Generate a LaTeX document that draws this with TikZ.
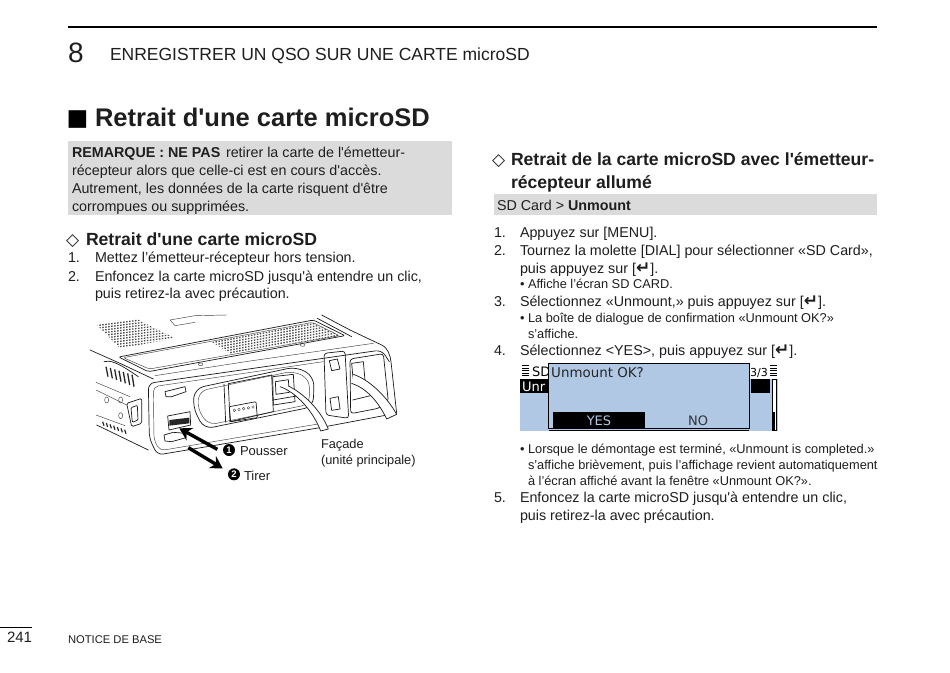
\documentclass[tikz,border=0pt]{standalone}
\usepackage{fontspec}
\setmainfont[Ligatures=TeXOff]{Liberation Sans}
\newfontfamily\dejavu{DejaVu Sans}
\newfontfamily\lcdfont{DejaVu Sans}
\usetikzlibrary{arrows.meta}
\definecolor{ink}{RGB}{30,30,30}
\definecolor{panelgray}{RGB}{219,219,219}
\definecolor{lcdblue}{RGB}{176,200,228}
\newcommand{\tl}[5]{\node[txt,font=\fontsize{#4}{#4}\selectfont] (#1) at (#2,#3) {#5};}
\newcommand{\tb}[5]{\node[txt,font=\fontsize{#4}{#4}\selectfont\bfseries] (#1) at (#2,#3) {#5};}
\newcommand{\retkey}{{\dejavu\bfseries\fontsize{17}{17}\selectfont\symbol{"21B5}}}
\tikzset{
  txt/.style={anchor=base west,inner sep=0pt,outer sep=0pt,text=ink},
  dev/.style={draw=black!90,line width=0.7pt,line join=round,line cap=round},
  devthin/.style={draw=black!75,line width=0.45pt,line join=round,line cap=round},
  numdot/.style={circle,fill=black,text=white,inner sep=0pt,minimum size=12pt,font=\fontsize{9.5}{9.5}\selectfont\bfseries},
  bigarrow/.style={draw=black,line width=3.4pt,-{Stealth[length=12pt,width=14pt]}},
  lcdtext/.style={anchor=base west,inner sep=0pt,font=\lcdfont\fontsize{13}{13}\selectfont},
}
\begin{document}
\begin{tikzpicture}[x=1pt,y=-1pt]
\useasboundingbox (0,0) rectangle (950,672);
\fill[white] (0,0) rectangle (950,672);
% header
\draw[black,line width=1.8pt] (68,27) -- (877,27);
\tl{chap}{68}{62}{28}{8}
\tl{chaptitle}{110}{60}{17.5}{ENREGISTRER UN QSO SUR UNE CARTE microSD}
\node[txt,font=\dejavu\fontsize{23}{23}\selectfont,text=black] (sq) at (66.5,125.5) {\symbol{"25A0}};
\tb{title}{95}{126}{25.5}{Retrait d'une carte microSD}
% note
\fill[panelgray] (68,141) rectangle (452,215);
\tb{n1a}{72}{157}{14.3}{REMARQUE : NE PAS}
\tl{n1b}{226}{157}{14.3}{retirer la carte de l'émetteur-}
\tl{n2}{72}{175}{14.3}{récepteur alors que celle-ci est en cours d'accès.}
\tl{n3}{72}{193}{14.3}{Autrement, les données de la carte risquent d'être}
\tl{n4}{72}{211}{14.3}{corrompues ou supprimées.}
% left section
\node[txt,font=\dejavu\bfseries\fontsize{17}{17}\selectfont] (dl) at (66,245) {\symbol{"25C7}};
\tb{hl}{86}{245}{17.6}{Retrait d'une carte microSD}
\tl{l1n}{68}{262}{14.3}{1.}
\tl{l1}{95}{262}{14.3}{Mettez l’émetteur-récepteur hors tension.}
\tl{l2n}{68}{281}{14.3}{2.}
\tl{l2}{95}{281}{14.3}{Enfoncez la carte microSD jusqu'à entendre un clic,}
\tl{l3}{95}{298}{14.3}{puis retirez-la avec précaution.}
% right section
\node[txt,font=\dejavu\bfseries\fontsize{17}{17}\selectfont] (dr) at (492,165) {\symbol{"25C7}};
\tb{hr1}{511}{165}{17.6}{Retrait de la carte microSD avec l'émetteur-}
\tb{hr2}{511}{188}{17.6}{récepteur allumé}
\fill[panelgray] (494,194) rectangle (877,215);
\node[txt,font=\fontsize{14.3}{14.3}\selectfont] (path) at (497,210) {SD Card > \textbf{Unmount}};
\tl{r1n}{494}{237}{14.3}{1.}
\tl{r1}{520}{237}{14.3}{Appuyez sur [MENU].}
\tl{r2n}{494}{255}{14.3}{2.}
\tl{r2}{520}{255}{14.3}{Tournez la molette [DIAL] pour sélectionner «SD Card»,}
\tl{r2b}{520}{273}{14.3}{puis appuyez sur [\retkey].}
\tl{r2c}{520}{288}{12.8}{• Affiche l’écran SD CARD.}
\tl{r3n}{494}{306}{14.3}{3.}
\tl{r3}{520}{306}{14.3}{Sélectionnez «Unmount,» puis appuyez sur [\retkey].}
\tl{r3b}{520}{322}{12.8}{• La boîte de dialogue de confirmation «Unmount OK?»}
\tl{r3c}{528}{338}{12.8}{s’affiche.}
\tl{r4n}{494}{355}{14.3}{4.}
\tl{r4}{520}{355}{14.3}{Sélectionnez <YES>, puis appuyez sur [\retkey].}
\tl{r5a}{520}{453}{12.8}{• Lorsque le démontage est terminé, «Unmount is completed.»}
\tl{r5b}{528}{469}{12.8}{s’affiche brièvement, puis l’affichage revient automatiquement}
\tl{r5c}{528}{485}{12.8}{à l’écran affiché avant la fenêtre «Unmount OK?».}
\tl{r6n}{494}{502}{14.3}{5.}
\tl{r6}{520}{502}{14.3}{Enfoncez la carte microSD jusqu'à entendre un clic,}
\tl{r7}{520}{520}{14.3}{puis retirez-la avec précaution.}
% footer
\draw[black,line width=0.5pt] (0,627) -- (32,627);
\tl{pg}{7}{642}{15}{241}
\tl{foot}{68}{643}{11.2}{NOTICE DE BASE}
% LCD
\fill[lcdblue] (520,379) rectangle (778,431);
\fill[black] (520,379) rectangle (549,393);
\fill[black] (751,379) rectangle (770,393);
\node[lcdtext,text=white] (lcdu) at (522,391) {Unr};
\node[lcdtext] (lcdsd) at (532,376) {SD};
\node[lcdtext,font=\lcdfont\fontsize{11}{11}\selectfont] (lcdpg) at (750,376) {3/3};
\foreach \yy in {365.5,368,370.5,373,375.5}{
  \draw[black,line width=0.8pt] (522,\yy) -- (529,\yy);
  \draw[black,line width=0.8pt] (770,\yy) -- (777,\yy);
}
\draw[black,line width=0.7pt,fill=white] (772,379) rectangle (776,430);
\fill[black] (773,412) rectangle (775,430);
\draw[black,line width=1pt,fill=lcdblue] (548.5,363.5) rectangle (749.5,428.5);
\fill[black] (553,412) rectangle (645,428);
\draw[black,line width=1pt] (549,430.5) -- (749,430.5);
\node[lcdtext,font=\lcdfont\fontsize{13.4}{13.4}\selectfont,text=black!85] (okq) at (551,377) {Unmount OK?};
\node[lcdtext,anchor=base,text=lcdblue] (yes) at (599,425) {YES};
\node[lcdtext,anchor=base,text=black!80] (no) at (698,425) {NO};
% device illustration, in zoomed-crop coordinates
\begin{scope}[shift={(80,305)},scale=0.33333]
  % vents
  \begin{scope}
    \clip (50,58) -- (170,42) -- (285,100) -- (120,130) -- cycle;
    \foreach \i in {0,...,13}{\draw[black!70,line width=1.3pt,dash pattern=on 1.5pt off 1.5pt] (40,{55+\i*8}) -- (300,{22+\i*8});}
  \end{scope}
  \begin{scope}
    \clip (395,110) -- (695,52) -- (780,92) -- (450,145) -- cycle;
    \foreach \i in {0,...,13}{\draw[black!70,line width=1.3pt,dash pattern=on 1.5pt off 1.5pt] (380,{108+\i*8}) -- (800,{30+\i*8});}
  \end{scope}
  % label plate
  \draw[devthin] (270,45) -- (345,32) (270,45) -- (285,62) -- (345,52) (345,32) -- (440,30);
  % silhouette
  \draw[dev] (725,30) -- (810,75) -- (905,120) .. controls (925,130) and (930,150) .. (933,170) -- (950,325);
  \draw[dev] (712,40) -- (815,95);
  % top panel
  \draw[dev,rounded corners=2pt] (116,156) -- (700,45) -- (795,92) -- (205,200) -- cycle;
  \draw[devthin,rounded corners=2pt] (130,158) -- (698,52) -- (778,92) -- (208,192) -- cycle;
  \draw[devthin] (362,178) circle (7 and 4) (668,120) circle (7 and 4);
  \draw[devthin] (880,115) -- (510,168) -- (225,212);
  % body left side
  \draw[dev] (30,135) -- (120,175) -- (220,222);
  \draw[dev] (72,170) .. controls (90,165) and (110,170) .. (175,215);
  \foreach \i in {0,...,6}{\draw[black!85,line width=1.3pt] ({78+\i*13},{185+\i*4}) -- ({84+\i*13},{215+\i*5});}
  \draw[devthin] (48,232) -- (150,275) (48,255) -- (140,300) (48,330) -- (135,362);
  \draw[dev] (50,360) -- (205,435);
  \foreach \i in {0,...,6}{\draw[black!85,line width=1.2pt] ({68+\i*11},{350+\i*4}) -- ({72+\i*11},{362+\i*4});}
  \draw[devthin] (80,285) circle (6 and 9) (122,285) circle (6 and 9) (122,332) circle (6 and 9);
  \draw[dev,rounded corners=1.5pt] (140,295) -- (185,280) -- (185,355) -- (155,365) -- cycle;
  \draw[dev,rounded corners=1pt] (153,308) -- (172,301) -- (174,345) -- (157,352) -- cycle;
  % front face
  \draw[dev,rounded corners=6pt] (928,170) -- (905,135) -- (205,235) -- (208,400) -- (232,450) -- (720,368) -- (948,325);
  \draw[devthin,rounded corners=5pt] (730,170) -- (220,245) -- (222,405) -- (240,437) -- (720,356);
  % opening
  \draw[dev,rounded corners=9pt] (338,305) -- (345,250) -- (650,185) -- (702,215) -- (700,305) -- (372,372) -- cycle;
  \draw[devthin,rounded corners=8pt] (352,310) -- (358,258) -- (640,198) -- (688,222) -- (688,298) -- (385,360) -- cycle;
  \draw[dev] (432,238) -- (437,352) (445,236) -- (450,350) (575,210) -- (580,320) (445,236) -- (575,210);
  \draw[dev] (450,350) -- (580,320);
  \draw[dev,rounded corners=1pt] (448,305) -- (528,290) -- (532,338) -- (452,350) -- cycle;
  \foreach \i in {0,...,4}{\draw[devthin] ({463+\i*14},{316-\i*2.5}) circle (4);}
  % rj connector
  \draw[dev] (578,215) -- (640,208) -- (645,290) -- (580,300) -- cycle;
  \draw[dev] (586,230) -- (625,224) -- (628,262) -- (588,268) -- cycle;
  \draw[dev] (580,285) -- (655,272);
  % right column
  \draw[dev,rounded corners=3pt] (732,145) -- (795,138) -- (806,340) -- (738,330) -- cycle;
  \draw[dev] (748,167) -- (772,162) -- (780,192) -- (755,197) -- cycle;
  \draw[dev] (750,280) -- (775,275) -- (780,312) -- (755,316) -- cycle;
  \draw[dev,rounded corners=3pt] (812,326) -- (810,162) -- (910,146) -- (925,290) -- (895,310) -- cycle;
  \draw[dev] (815,175) -- (850,170) -- (855,225) -- (820,230) -- cycle;
  \draw[dev] (818,285) -- (900,265);
  % cables
  \draw[dev,fill=white] (600,245) .. controls (650,262) and (700,320) .. (722,378) -- (745,372) .. controls (720,310) and (665,262) .. (625,243);
  \draw[dev,fill=white] (820,208) .. controls (870,225) and (920,275) .. (950,328) -- (920,342) .. controls (895,290) and (860,250) .. (815,235);
  % card slot and clips
  \draw[dev] (263,333) -- (330,320) -- (332,360) -- (267,375) -- cycle;
  \fill[black!85] (268,345) -- (328,338) -- (328,355) -- (268,362) -- cycle;
  \draw[dev] (255,260) -- (315,245) -- (318,260) -- (275,275) -- (258,275) -- cycle;
  \draw[dev] (252,390) -- (280,382) -- (318,385) -- (318,398) -- (275,410) -- (255,408) -- cycle;
  % arrows and labels
  \node[numdot] (n1) at (447,435) {1};
  \node[numdot] (n2) at (462,508) {2};
  \coordinate (pushstart) at (412,433);
  \coordinate (pushend) at (298,370);
  \coordinate (pullstart) at (325,428);
  \coordinate (pullend) at (428,490);
  \draw[bigarrow] (pushstart) -- (pushend);
  \draw[bigarrow] (pullstart) -- (pullend);
\end{scope}
\tl{pousser}{240}{455}{13}{Pousser}
\tl{tirer}{244}{480}{13}{Tirer}
\tl{facade}{321}{448}{12.8}{Façade}
\tl{unite}{321}{464}{12.8}{(unité principale)}
\end{tikzpicture}
\end{document}
